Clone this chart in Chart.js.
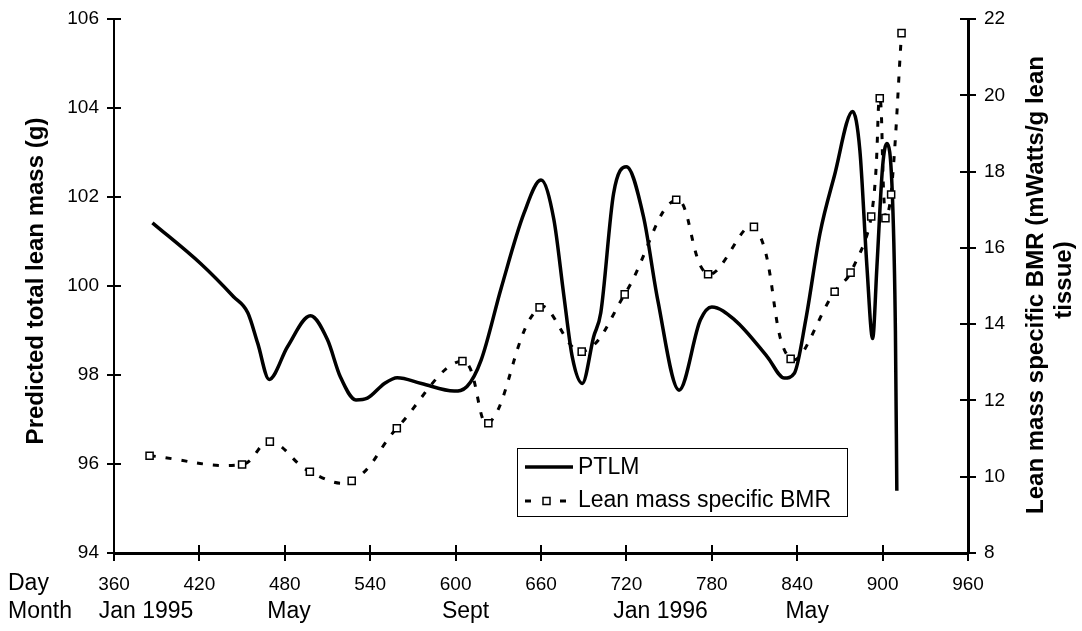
<!DOCTYPE html>
<html>
<head>
<meta charset="utf-8">
<script src="https://cdn.jsdelivr.net/npm/chart.js@4.4.0/dist/chart.umd.min.js"></script>
<style>
  html, body { margin: 0; padding: 0; background: #fff; }
</style>
</head>
<body>
<canvas id="lineChart" width="1082" height="631"></canvas>
<script>
// values
const ptlmDays = [387, 421, 444, 454, 461, 469, 482, 498, 510, 519, 530, 538, 550, 559, 576, 599, 608, 618, 632, 648, 660, 669, 676, 682, 689, 697, 702, 711, 720, 732, 742, 757, 772, 780, 796, 819, 831, 838, 846, 856, 866, 879, 884, 889, 893, 896, 900, 903, 907, 909, 910];
const ptlmValues = [101.42, 100.5, 99.76, 99.4, 98.71, 97.9, 98.64, 99.33, 98.79, 97.96, 97.44, 97.48, 97.81, 97.94, 97.81, 97.64, 97.74, 98.34, 99.95, 101.63, 102.38, 101.5, 99.8, 98.4, 97.81, 98.86, 99.4, 102.08, 102.68, 101.56, 99.69, 97.66, 99.24, 99.53, 99.24, 98.41, 97.93, 98.04, 99.24, 101.18, 102.46, 103.92, 103.06, 100.43, 98.82, 100.43, 102.68, 103.2, 101.93, 99.0, 95.4];

const bmrDays = [385, 450, 469.5, 497.6, 527, 558.7, 604.8, 623, 659, 688.6, 718.8, 755, 777.4, 809.6, 835.4, 866.3, 877.5, 892, 898, 902, 906, 913.3];
const bmrValues = [10.55, 10.32, 10.92, 10.13, 9.89, 11.27, 13.03, 11.4, 14.44, 13.28, 14.78, 17.26, 15.31, 16.55, 13.09, 14.85, 15.35, 16.82, 19.92, 16.78, 17.4, 21.63];

const dayTicks = [360, 420, 480, 540, 600, 660, 720, 780, 840, 900, 960];
const leftTicks = [94, 96, 98, 100, 102, 104, 106];
const rightTicks = [8, 10, 12, 14, 16, 18, 20, 22];
const monthLabels = ['Jan 1995', 'May', 'Sept', 'Jan 1996', 'May'];
const monthDays = [382.5, 483, 607, 744, 847];

const FONT = '"Liberation Sans", Arial, sans-serif';

function toPoints(xs, ys) {
  return xs.map((x, i) => ({ x: x, y: ys[i] }));
}

const extras = {
  id: 'extras',
  afterDraw(chart) {
    const ctx = chart.ctx;
    const area = chart.chartArea;
    const sx = chart.scales.x, sy = chart.scales.y, sy2 = chart.scales.y2;
    ctx.save();
    ctx.strokeStyle = '#000';
    ctx.fillStyle = '#000';

    // crossing tick marks
    ctx.lineWidth = 2;
    ctx.beginPath();
    dayTicks.forEach(v => {
      const px = Math.round(sx.getPixelForValue(v));
      ctx.moveTo(px, area.bottom - 8);
      ctx.lineTo(px, area.bottom + 8);
    });
    leftTicks.forEach(v => {
      const py = Math.round(sy.getPixelForValue(v));
      ctx.moveTo(area.left - 7, py);
      ctx.lineTo(area.left + 7, py);
    });
    rightTicks.forEach(v => {
      const py = Math.round(sy2.getPixelForValue(v));
      ctx.moveTo(area.right - 8, py);
      ctx.lineTo(area.right + 8, py);
    });
    ctx.stroke();

    // axis titles
    ctx.font = 'bold 24px ' + FONT;
    ctx.textAlign = 'center';
    ctx.textBaseline = 'alphabetic';
    ctx.save();
    ctx.translate(43, 281);
    ctx.rotate(-Math.PI / 2);
    ctx.fillText('Predicted total lean mass (g)', 0, 0);
    ctx.restore();
    ctx.save();
    ctx.translate(1043, 285);
    ctx.rotate(-Math.PI / 2);
    ctx.fillText('Lean mass specific BMR (mWatts/g lean', 0, 0);
    ctx.restore();
    ctx.save();
    ctx.translate(1071, 280);
    ctx.rotate(-Math.PI / 2);
    ctx.fillText('tissue)', 0, 0);
    ctx.restore();

    // Day / Month rows
    ctx.font = '23px ' + FONT;
    ctx.textAlign = 'left';
    ctx.fillText('Day', 8, 590);
    ctx.fillText('Month', 8, 618);
    ctx.textAlign = 'center';
    monthLabels.forEach((m, i) => {
      ctx.fillText(m, sx.getPixelForValue(monthDays[i]), 618);
    });

    // legend
    ctx.lineWidth = 1;
    ctx.strokeRect(517.5, 448.5, 330, 68);
    ctx.lineWidth = 3.5;
    ctx.beginPath();
    ctx.moveTo(525, 467);
    ctx.lineTo(573, 467);
    ctx.stroke();
    ctx.lineWidth = 3;
    ctx.beginPath();
    ctx.moveTo(525, 501); ctx.lineTo(531, 501);
    ctx.moveTo(560, 501); ctx.lineTo(566, 501);
    ctx.stroke();
    ctx.lineWidth = 1.5;
    ctx.fillStyle = '#fff';
    ctx.fillRect(543, 497.5, 7, 7);
    ctx.strokeRect(543, 497.5, 7, 7);
    ctx.fillStyle = '#000';
    ctx.font = '23px ' + FONT;
    ctx.textAlign = 'left';
    ctx.textBaseline = 'middle';
    ctx.fillText('PTLM', 578, 468);
    ctx.fillText('Lean mass specific BMR', 578, 501);
    ctx.restore();
  }
};

const tickFont = { family: FONT, size: 19 };

function fitY(width) {
  return s => {
    s.width = width;
    s.paddingTop = 0;
    s.paddingBottom = 0;
  };
}

new Chart(document.getElementById('lineChart'), {
  type: 'line',
  data: {
    datasets: [{
      label: 'Lean mass specific BMR',
      data: toPoints(bmrDays, bmrValues),
      yAxisID: 'y2',
      borderColor: '#000',
      borderWidth: 3,
      borderDash: [6, 10],
      tension: 0.4,
      pointStyle: 'rect',
      pointRadius: 5,
      pointBackgroundColor: '#fff',
      pointBorderColor: '#000',
      pointBorderWidth: 1.5,
      fill: false,
    }, {
      label: 'PTLM',
      data: toPoints(ptlmDays, ptlmValues),
      yAxisID: 'y',
      borderColor: '#000',
      borderWidth: 3.5,
      pointRadius: 0,
      cubicInterpolationMode: 'monotone',
      fill: false,
    }],
  },
  options: {
    responsive: false,
    animation: false,
    devicePixelRatio: 1,
    layout: { padding: { top: 19, left: 0, right: 0, bottom: 0 } },
    plugins: { legend: { display: false }, tooltip: { enabled: false } },
    scales: {
      x: {
        type: 'linear',
        position: 'bottom',
        min: 360,
        max: 960,
        afterBuildTicks: s => { s.ticks = dayTicks.map(v => ({ value: v })); },
        afterFit: s => { s.height = 78; },
        ticks: { font: tickFont, color: '#000', padding: 20, maxRotation: 0, autoSkip: false },
        grid: { drawOnChartArea: false, drawTicks: false },
        border: { color: '#000', width: 3 },
      },
      y: {
        position: 'left',
        min: 94,
        max: 106,
        afterBuildTicks: s => { s.ticks = leftTicks.map(v => ({ value: v })); },
        afterFit: fitY(114),
        ticks: { font: tickFont, color: '#000', padding: 15 },
        grid: { drawOnChartArea: false, drawTicks: false },
        border: { color: '#000', width: 2 },
      },
      y2: {
        position: 'right',
        min: 8,
        max: 22,
        afterBuildTicks: s => { s.ticks = rightTicks.map(v => ({ value: v })); },
        afterFit: fitY(114),
        ticks: { font: tickFont, color: '#000', padding: 16 },
        grid: { drawOnChartArea: false, drawTicks: false },
        border: { color: '#000', width: 3 },
      },
    },
  },
  plugins: [extras],
});
</script>
</body>
</html>
